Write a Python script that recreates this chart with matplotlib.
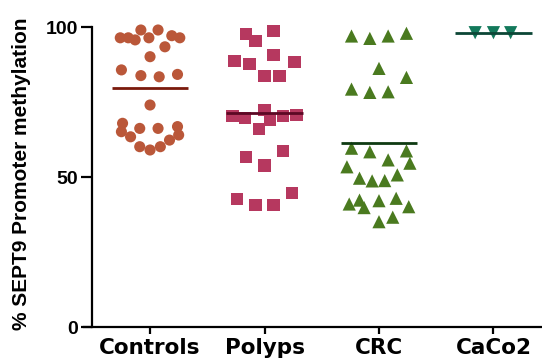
import matplotlib
matplotlib.use("Agg")
import matplotlib.pyplot as plt

# Group names along the x axis
categories = ["Controls", "Polyps", "CRC", "CaCo2"]

# % SEPT9 promoter methylation per sample, with horizontal scatter offsets
controls_vals = [96.4, 96.4, 95.7, 99.0, 96.4, 99.0, 97.1, 96.4, 93.4, 90.1,
                 85.7, 83.8, 83.4, 84.2, 74.0, 67.9, 66.2, 66.2, 66.8, 65.1,
                 63.4, 60.1, 59.0, 60.1, 62.3, 64.0]
controls_dx = [-0.26, -0.19, -0.13, -0.08, -0.01, 0.07, 0.19, 0.26, 0.13, 0.0,
               -0.25, -0.08, 0.08, 0.24, 0.0, -0.24, -0.09, 0.07, 0.24, -0.25,
               -0.17, -0.09, 0.0, 0.09, 0.17, 0.25]

polyps_vals = [97.7, 98.7, 95.3, 88.7, 87.6, 90.7, 88.4, 83.7, 83.7, 70.3,
               69.6, 72.3, 69.0, 70.3, 70.7, 66.0, 56.6, 58.7, 53.8, 42.7,
               40.7, 40.7, 44.6]
polyps_dx = [-0.16, 0.08, -0.08, -0.26, -0.13, 0.08, 0.26, 0.0, 0.13, -0.28,
             -0.17, 0.0, 0.05, 0.16, 0.28, -0.05, -0.16, 0.16, 0.0, -0.24,
             -0.08, 0.08, 0.24]

crc_vals = [97.0, 96.2, 97.0, 97.9, 86.2, 83.2, 79.3, 78.2, 78.4, 59.6,
            58.4, 58.7, 53.4, 55.7, 54.6, 49.6, 48.7, 48.8, 50.7, 41.0,
            42.3, 39.8, 42.1, 42.9, 40.1, 35.1, 36.6]
crc_dx = [-0.24, -0.08, 0.08, 0.24, 0.0, 0.24, -0.24, -0.08, 0.08, -0.24,
          -0.08, 0.24, -0.28, 0.08, 0.27, -0.17, -0.06, 0.05, 0.16, -0.26,
          -0.17, -0.13, 0.0, 0.15, 0.26, 0.0, 0.12]

caco2_vals = [98.1, 98.1, 98.1]
caco2_dx = [-0.16, 0.0, 0.15]

# Group summary lines
center_lines = [79.8, 71.2, 61.4, 98.0]

groups = [
    (controls_vals, controls_dx, "o", 8.0, "#BA5739", "#7A1A0C"),
    (polyps_vals, polyps_dx, "s", 9.0, "#B6385F", "#5C0824"),
    (crc_vals, crc_dx, "^", 9.5, "#4A7A1F", "#0E3A12"),
    (caco2_vals, caco2_dx, "v", 9.5, "#13795B", "#0C4636"),
]

fig = plt.figure(figsize=(5.42, 3.63), dpi=100)
ax = fig.add_axes([92 / 542, 36 / 363, 450 / 542, 300 / 363])

for i, (vals, dx, mk, ms, fc, lc) in enumerate(groups):
    xs = [i + d for d in dx]
    ax.scatter(xs, vals, marker=mk, s=ms ** 2, color=fc, edgecolors="none",
               zorder=3, clip_on=False)
    ax.hlines(center_lines[i], i - 0.335, i + 0.335, color=lc, linewidth=2.0,
              zorder=4)

ax.set_xlim(-0.507, 3.424)
ax.set_ylim(0, 100)

for side in ("top", "right"):
    ax.spines[side].set_visible(False)
for side in ("left", "bottom"):
    ax.spines[side].set_linewidth(1.6)
    ax.spines[side].set_color("black")
ax.spines["left"].set_bounds(0, 100)
ax.spines["bottom"].set_bounds(-0.58, 3.424)

ax.set_yticks([0, 50, 100])
ax.set_yticklabels(["0", "50", "100"], fontfamily="Liberation Sans",
                   fontweight="bold", fontsize=14)
ax.tick_params(axis="y", length=8, width=1.6, pad=2, direction="out")

ax.set_xticks(range(len(categories)))
ax.set_xticklabels(categories, fontfamily="DejaVu Sans", fontweight="bold",
                   fontsize=15.5)
ax.tick_params(axis="x", length=5, width=1.6, pad=3, direction="out")

fig.text(22 / 542, 1 - 174 / 363, "% SEPT9 Promoter methylation",
         rotation=90, ha="center", va="center", fontfamily="Liberation Sans",
         fontweight="bold", fontsize=15)

fig.savefig("out.png", dpi=100)
